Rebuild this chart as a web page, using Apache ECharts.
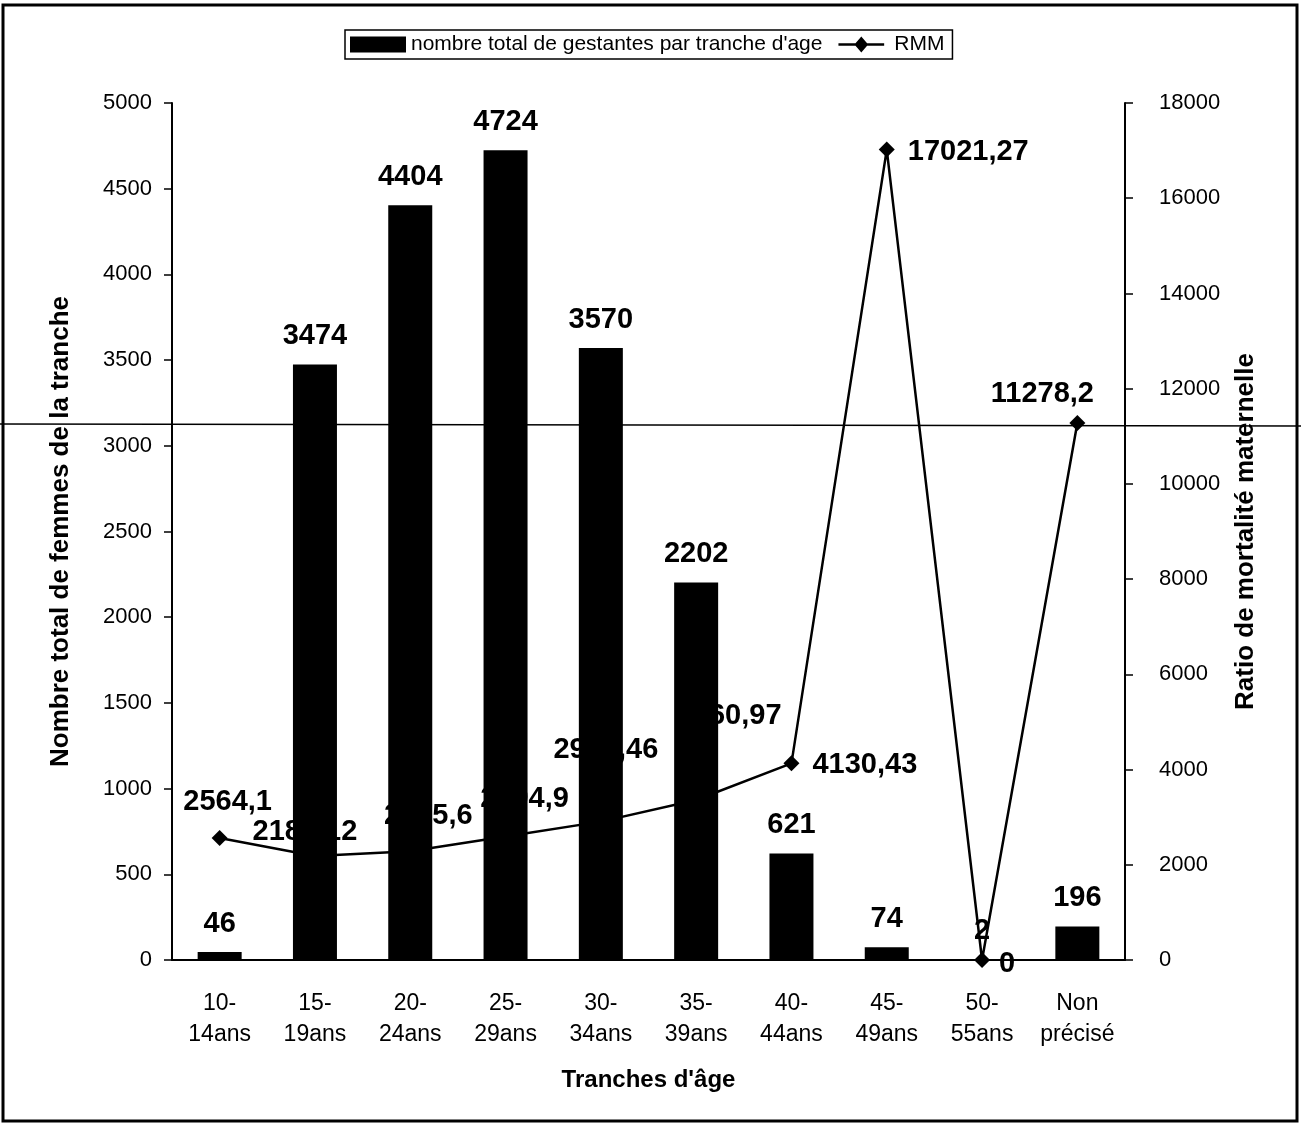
<!DOCTYPE html>
<html>
<head>
<meta charset="utf-8">
<script src="https://cdn.jsdelivr.net/npm/echarts@6/dist/echarts.min.js"></script>
<style>
  html, body { margin: 0; padding: 0; background: #fff; }
  #chart { width: 1301px; height: 1128px; }
</style>
</head>
<body>
<div id="chart"></div>
<script>
// Tranches d'âge
const categories = ['10-\n14ans', '15-\n19ans', '20-\n24ans', '25-\n29ans', '30-\n34ans',
  '35-\n39ans', '40-\n44ans', '45-\n49ans', '50-\n55ans', 'Non\nprécisé'];
// Nombre total de gestantes par tranche d'âge
const gestantes = [46, 3474, 4404, 4724, 3570, 2202, 621, 74, 2, 196];
// Ratio de mortalité maternelle
const rmm = [2564.1, 2185.12, 2285.6, 2594.9, 2906.46, 3360.97, 4130.43, 17021.27, 0, 11278.2];

const leftTicks = { min: 0, max: 5000, interval: 500 };
const rightTicks = { min: 0, max: 18000, interval: 2000 };

const FONT = '"Liberation Sans", Arial, sans-serif';
const fmt = v => String(v).replace('.', ',');

// label placement for each point of the RMM curve
const rmmLabelPlacement = [
  { position: 'top', offset: [8, -8] },
  { position: 'top', offset: [-10, 4] },
  { position: 'top', offset: [18, -8] },
  { position: 'top', offset: [19, -10] },
  { position: 'top', offset: [5, -44] },
  { position: 'top', offset: [33, -56] },
  { position: 'right', offset: [8, 2] },
  { position: 'right', offset: [8, 2] },
  { position: 'right', offset: [4, 4] },
  { position: 'top', offset: [-35, -2] }
];

const chart = echarts.init(document.getElementById('chart'), null, { renderer: 'canvas' });

const option = {
  backgroundColor: '#fff',
  animation: false,
  textStyle: { fontFamily: FONT, color: '#000' },
  grid: { left: 172, right: 176, top: 103, bottom: 168, containLabel: false },
  legend: {
    top: 30,
    left: 345,
    width: 660,
    padding: [4, 8, 4, 5],
    itemGap: 16,
    borderColor: '#000',
    borderWidth: 1.5,
    backgroundColor: '#fff',
    textStyle: { fontFamily: FONT, fontSize: 21, color: '#000' },
    data: [
      { name: "nombre total de gestantes par tranche d'age", icon: 'rect', itemStyle: { color: '#000' } },
      { name: 'RMM', icon: 'path://M0,9 L40,9 L40,11 L0,11 Z M20,3 L26,10 L20,17 L14,10 Z' }
    ],
    itemWidth: 56,
    itemHeight: 16
  },
  xAxis: {
    type: 'category',
    data: categories,
    name: "Tranches d'âge",
    nameLocation: 'middle',
    nameGap: 108,
    nameTextStyle: { fontFamily: FONT, fontSize: 24, fontWeight: 'bold', color: '#000' },
    axisLine: { lineStyle: { color: '#000', width: 2 } },
    axisTick: { alignWithLabel: false, length: 9, lineStyle: { color: '#000', width: 1.5 } },
    axisLabel: { fontFamily: FONT, fontSize: 23, color: '#000', margin: 28, lineHeight: 31, interval: 0 }
  },
  yAxis: [
    {
      type: 'value',
      min: leftTicks.min, max: leftTicks.max, interval: leftTicks.interval,
      name: 'Nombre total de femmes de la tranche',
      nameLocation: 'middle',
      nameGap: 98,
      nameRotate: 90,
      nameTextStyle: { fontFamily: FONT, fontSize: 26, fontWeight: 'bold', color: '#000' },
      axisLine: { show: true, lineStyle: { color: '#000', width: 2 } },
      axisTick: { show: true, length: 8, lineStyle: { color: '#000', width: 1.5 } },
      axisLabel: { fontFamily: FONT, fontSize: 22, color: '#000', margin: 20, formatter: v => String(v) },
      splitLine: { show: false }
    },
    {
      type: 'value',
      min: rightTicks.min, max: rightTicks.max, interval: rightTicks.interval,
      name: 'Ratio de mortalité maternelle',
      nameLocation: 'middle',
      nameGap: 108,
      nameRotate: 90,
      nameTextStyle: { fontFamily: FONT, fontSize: 26, fontWeight: 'bold', color: '#000' },
      axisLine: { show: true, lineStyle: { color: '#000', width: 2 } },
      axisTick: { show: true, length: 8, lineStyle: { color: '#000', width: 1.5 } },
      axisLabel: { fontFamily: FONT, fontSize: 22, color: '#000', margin: 34, formatter: v => String(v) },
      splitLine: { show: false }
    }
  ],
  series: [
    {
      name: "nombre total de gestantes par tranche d'age",
      type: 'bar',
      yAxisIndex: 0,
      data: gestantes,
      barWidth: 44,
      itemStyle: { color: '#000' },
      label: {
        show: true,
        position: 'top',
        distance: 14,
        fontFamily: FONT,
        fontSize: 29,
        fontWeight: 'bold',
        color: '#000',
        formatter: p => fmt(p.value)
      },
      z: 2
    },
    {
      name: 'RMM',
      type: 'line',
      yAxisIndex: 1,
      data: rmm.map((v, i) => ({
        value: v,
        label: rmmLabelPlacement[i]
      })),
      symbol: 'diamond',
      symbolSize: 16,
      lineStyle: { color: '#000', width: 2.5 },
      itemStyle: { color: '#000' },
      label: {
        show: true,
        fontFamily: FONT,
        fontSize: 29,
        fontWeight: 'bold',
        color: '#000',
        formatter: p => fmt(p.value)
      },
      z: 3
    }
  ],
  graphic: [
    {
      type: 'rect',
      shape: { x: 3, y: 5, width: 1294, height: 1116 },
      style: { fill: 'none', stroke: '#000', lineWidth: 3 },
      silent: true
    },
    {
      type: 'line',
      shape: { x1: 0, y1: 424, x2: 1301, y2: 426 },
      style: { stroke: '#000', lineWidth: 1.5 },
      silent: true,
      z: 10
    }
  ]
};

chart.setOption(option);
</script>
</body>
</html>
